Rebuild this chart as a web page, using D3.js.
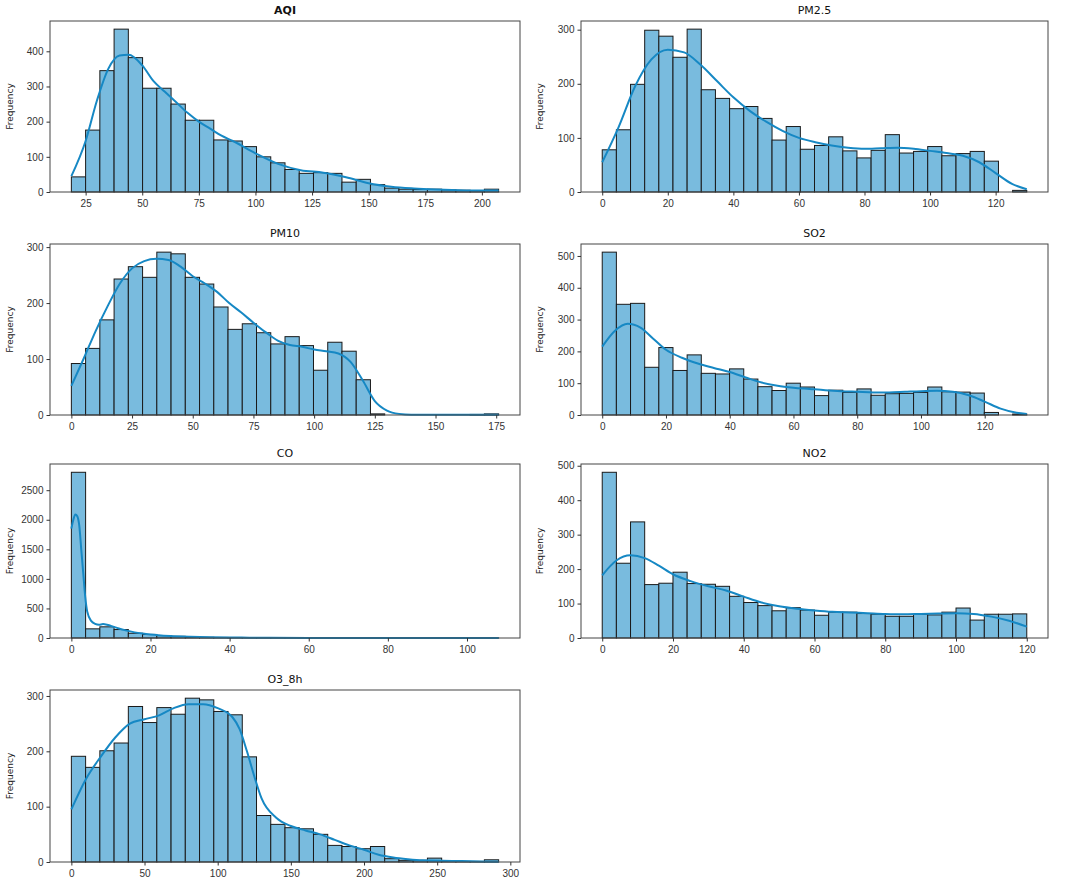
<!DOCTYPE html>
<html>
<head>
<meta charset="utf-8">
<script src="https://cdn.jsdelivr.net/npm/d3@7"></script>
<style>
  body { margin: 0; background: #fff; }
  svg { font-family: "DejaVu Sans", sans-serif; }
  .tick text { fill: #333; font-size: 10px; }
  .tick line { stroke: #333; }
</style>
</head>
<body>
<svg id="chart" width="1065" height="882"></svg>
<script>
'use strict';

// histogram bins: [first edge, last edge], 30 bins each
let aqiRange = [18.7, 207.4];
let aqiCounts = [43, 176, 345, 463, 382, 295, 295, 250, 204, 204, 148, 145, 129, 100, 83,
  64, 53, 55, 53, 28, 36, 21, 11, 8, 7, 8, 6, 5, 4, 8];
let aqiKdeX = [18.7, 25, 30, 35, 40, 44, 50, 55, 60, 65, 70, 75, 80, 85, 90, 100, 110,
  120, 130, 140, 150, 160, 170, 180, 190, 200, 207.4];
let aqiKdeY = [45, 145, 260, 350, 388, 390, 360, 315, 285, 255, 225, 200, 180, 160, 145,
  110, 80, 62, 55, 42, 25, 15, 10, 7, 5, 4, 4];

let pm25Range = [0, 129.5];
let pm25Counts = [78, 115, 199, 299, 288, 249, 301, 189, 173, 154, 158, 136, 96, 121, 79,
  86, 102, 76, 63, 77, 106, 72, 75, 84, 67, 71, 75, 57, 0, 3];
let pm25KdeX = [0, 5, 10, 15, 20, 25, 30, 35, 40, 45, 50, 55, 60, 65, 70, 75, 80, 85, 90,
  95, 100, 105, 110, 115, 120, 125, 129.5];
let pm25KdeY = [55, 120, 195, 245, 263, 258, 235, 205, 175, 150, 130, 113, 100, 92, 86,
  82, 80, 81, 82, 80, 76, 72, 67, 55, 35, 15, 5];

let pm10Range = [0, 176];
let pm10Counts = [92, 119, 170, 243, 265, 246, 291, 288, 246, 234, 193, 153, 163, 147, 127,
  140, 124, 80, 130, 114, 63, 2, 0, 0, 0, 0, 0, 0, 1, 2];
let pm10KdeX = [0, 5, 10, 15, 20, 25, 30, 35, 40, 45, 50, 55, 60, 65, 70, 75, 80, 85, 90,
  95, 100, 105, 110, 115, 120, 125, 130, 135, 140, 176];
let pm10KdeY = [52, 100, 150, 195, 235, 262, 275, 279, 277, 265, 248, 235, 220, 200, 183,
  165, 148, 133, 125, 122, 117, 114, 110, 95, 62, 25, 8, 2, 0.5, 0.5];

let so2Range = [0, 133.2];
let so2Counts = [512, 348, 351, 150, 212, 140, 189, 131, 129, 145, 113, 89, 77, 100, 88,
  61, 78, 71, 82, 62, 67, 68, 71, 88, 73, 72, 69, 8, 0, 3];
let so2KdeX = [0, 4, 8, 12, 16, 20, 25, 30, 35, 40, 45, 50, 55, 60, 65, 70, 75, 80, 85,
  90, 95, 100, 105, 110, 115, 120, 125, 130, 133.2];
let so2KdeY = [215, 265, 287, 275, 240, 205, 180, 162, 148, 135, 118, 102, 92, 86, 82,
  78, 75, 73, 71, 71, 73, 75, 76, 73, 62, 42, 20, 7, 3];

let coRange = [0, 108];
let coCounts = [2803, 155, 189, 143, 80, 60, 40, 28, 17, 12, 9, 7, 5, 4, 3,
  2, 2, 1, 1, 1, 1, 0, 0, 0, 0, 0, 0, 0, 0, 1];
let coKdeX = [0, 0.5, 1, 1.5, 2, 2.5, 3, 3.5, 4, 5, 6, 7, 8, 9, 10, 12, 14, 16, 18, 20,
  22, 25, 30, 35, 40, 45, 50, 60, 80, 108];
let coKdeY = [1850, 2000, 2090, 2060, 1900, 1500, 1100, 700, 450, 290, 240, 225, 235, 225,
  205, 160, 125, 95, 75, 60, 48, 35, 22, 14, 9, 5, 3, 1, 0.5, 0.3];

let no2Range = [0, 120];
let no2Counts = [481, 217, 337, 155, 159, 191, 158, 156, 150, 121, 103, 94, 79, 88, 81,
  66, 75, 75, 71, 69, 63, 63, 69, 67, 75, 87, 52, 69, 69, 70];
let no2KdeX = [0, 4, 8, 12, 16, 20, 25, 30, 35, 40, 45, 50, 55, 60, 65, 70, 75, 80, 85,
  90, 95, 100, 105, 110, 115, 120];
let no2KdeY = [182, 225, 240, 232, 210, 185, 165, 150, 138, 120, 103, 92, 85, 80, 76, 74,
  72, 70, 69, 70, 71, 72, 70, 62, 50, 33];

let o3Range = [0, 292];
let o3Counts = [191, 171, 201, 215, 281, 252, 279, 267, 296, 293, 272, 266, 190, 84, 68,
  62, 60, 50, 30, 28, 24, 28, 6, 3, 3, 7, 2, 1, 1, 4];
let o3KdeX = [0, 10, 20, 30, 40, 50, 60, 70, 80, 90, 100, 110, 115, 120, 125, 130, 140,
  150, 160, 170, 180, 190, 200, 210, 220, 230, 240, 260, 280, 292];
let o3KdeY = [95, 150, 190, 225, 250, 258, 265, 278, 285, 285, 278, 262, 240, 200, 155,
  115, 80, 65, 57, 50, 40, 30, 22, 13, 8, 5, 3, 2, 1, 0.5];

let titles = ['AQI', 'PM2.5', 'PM10', 'SO2', 'CO', 'NO2', 'O3_8h'];
let xTicks = [
  [25, 50, 75, 100, 125, 150, 175, 200],
  [0, 20, 40, 60, 80, 100, 120],
  [0, 25, 50, 75, 100, 125, 150, 175],
  [0, 20, 40, 60, 80, 100, 120],
  [0, 20, 40, 60, 80, 100],
  [0, 20, 40, 60, 80, 100, 120],
  [0, 50, 100, 150, 200, 250, 300],
];
let yTicks = [
  [0, 100, 200, 300, 400],
  [0, 100, 200, 300],
  [0, 100, 200, 300],
  [0, 100, 200, 300, 400, 500],
  [0, 500, 1000, 1500, 2000, 2500],
  [0, 100, 200, 300, 400, 500],
  [0, 100, 200, 300],
];

let panels = [
  {range: aqiRange, counts: aqiCounts, kx: aqiKdeX, ky: aqiKdeY},
  {range: pm25Range, counts: pm25Counts, kx: pm25KdeX, ky: pm25KdeY},
  {range: pm10Range, counts: pm10Counts, kx: pm10KdeX, ky: pm10KdeY},
  {range: so2Range, counts: so2Counts, kx: so2KdeX, ky: so2KdeY},
  {range: coRange, counts: coCounts, kx: coKdeX, ky: coKdeY},
  {range: no2Range, counts: no2Counts, kx: no2KdeX, ky: no2KdeY},
  {range: o3Range, counts: o3Counts, kx: o3KdeX, ky: o3KdeY},
];

let barFill = '#79bbde';
let lineColor = '#1688c4';

let svg = d3.select('#chart');

let panelBox = i => {
  let col = i % 2;
  let row = Math.floor(i / 2);
  let bbox = {};
  bbox.x = col === 0 ? 50 : 581;
  bbox.w = col === 0 ? 470 : 467;
  bbox.y = [21, 244, 464, 690][row];
  bbox.h = [171, 171, 174, 172][row];
  return bbox;
};

panels.forEach((p, i) => {
  let bbox = panelBox(i);
  let g = svg.append('g')
    .attr('transform', `translate(${bbox.x},${bbox.y})`);

  let n = p.counts.length;
  let bw = (p.range[1] - p.range[0]) / n;
  let bins = p.counts.map((c, k) => ({
    x0: p.range[0] + k * bw,
    x1: p.range[0] + (k + 1) * bw,
    count: c,
  }));

  let span = p.range[1] - p.range[0];
  let x = d3.scaleLinear()
    .domain([p.range[0] - span * 0.05, p.range[1] + span * 0.05])
    .range([0, bbox.w]);
  let y = d3.scaleLinear()
    .domain([0, d3.max(p.counts) * 1.05])
    .range([bbox.h, 0]);

  g.append('g')
    .selectAll('rect')
    .data(bins.filter(b => b.count > 0))
    .enter()
    .append('rect')
    .attr('x', b => x(b.x0))
    .attr('y', b => y(b.count))
    .attr('width', b => x(b.x1) - x(b.x0))
    .attr('height', b => y(0) - y(b.count))
    .style('fill', barFill)
    .style('stroke', '#1a1a1a')
    .style('stroke-width', 1);

  let line = d3.line()
    .x(d => x(d[0]))
    .y(d => y(d[1]))
    .curve(d3.curveMonotoneX);
  g.append('path')
    .datum(p.kx.map((v, k) => [v, p.ky[k]]))
    .attr('d', line)
    .style('fill', 'none')
    .style('stroke', lineColor)
    .style('stroke-width', 2);

  g.append('rect')
    .attr('width', bbox.w)
    .attr('height', bbox.h)
    .style('fill', 'none')
    .style('stroke', '#444')
    .style('stroke-width', 1);

  let xAxis = g.append('g')
    .attr('transform', `translate(0,${bbox.h})`)
    .call(d3.axisBottom(x).tickValues(xTicks[i]).tickFormat(d3.format('d'))
      .tickSize(3.5).tickPadding(4));
  xAxis.select('.domain').remove();

  let yAxis = g.append('g')
    .call(d3.axisLeft(y).tickValues(yTicks[i]).tickFormat(d3.format('d'))
      .tickSize(3.5).tickPadding(3));
  yAxis.select('.domain').remove();

  g.append('text')
    .attr('x', bbox.w / 2)
    .attr('y', -7)
    .style('text-anchor', 'middle')
    .style('font-size', '11px')
    .style('fill', '#111')
    .style('font-weight', i === 0 ? 'bold' : 'normal')
    .text(titles[i]);

  g.append('text')
    .attr('transform', `translate(${i % 2 === 0 ? -37 : -38},${bbox.h / 2}) rotate(-90)`)
    .style('text-anchor', 'middle')
    .style('font-size', '9px')
    .style('fill', '#222')
    .text('Frequency');
});
</script>
</body>
</html>
